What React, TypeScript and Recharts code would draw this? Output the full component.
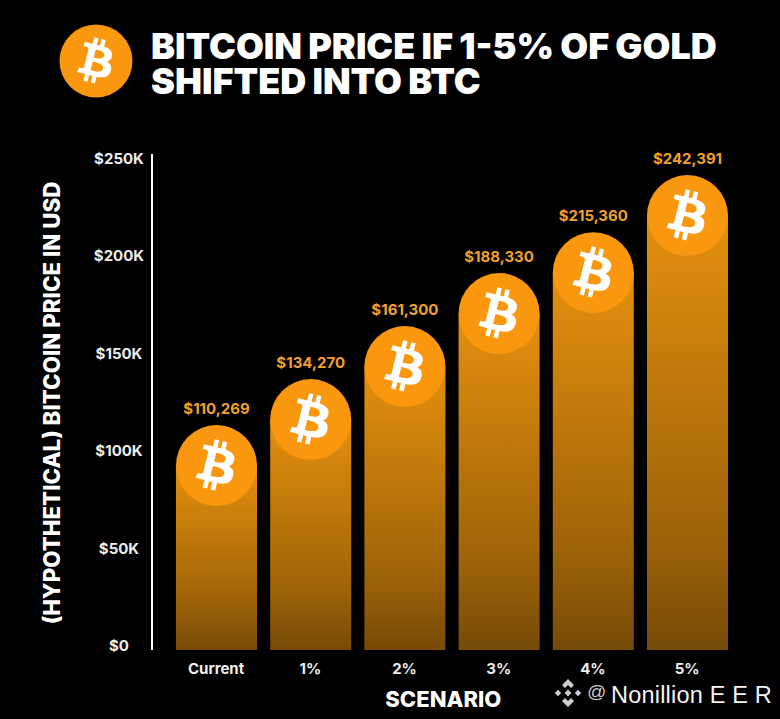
import { BarChart, Bar, XAxis, YAxis, LabelList } from 'recharts';

const scenarios = ['Current', '1%', '2%', '3%', '4%', '5%'];
const priceLabels = ['$110,269', '$134,270', '$161,300', '$188,330', '$215,360', '$242,391'];
// height of each coin-topped bar as it sits against the axis in the picture
const drawnHeights = [115400, 139000, 166200, 193400, 214400, 243700];
const yTicks = [0, 50000, 100000, 150000, 200000, 250000];

const chartData = scenarios.map((scenario, i) => ({
  scenario,
  height: drawnHeights[i],
  priceLabel: priceLabels[i],
}));

const FONT = 'Inter, sans-serif';
const ORANGE = '#f9970f';
const B_PATH =
  'M17.288 10.291c.24-1.59-.974-2.45-2.64-3.03l.54-2.153-1.315-.33-.525 2.107c-.345-.087-.705-.167-1.064-.25l.526-2.127-1.32-.33-.54 2.165c-.285-.067-.565-.132-.84-.2l-1.815-.45-.35 1.407s.975.225.955.236c.535.136.63.486.615.766l-1.477 5.92c-.075.166-.24.406-.614.314.015.02-.96-.24-.96-.24l-.66 1.51 1.71.426.93.242-.54 2.19 1.32.327.54-2.17c.36.1.705.19 1.05.273l-.51 2.154 1.32.33.545-2.19c2.24.427 3.93.257 4.64-1.774.57-1.637-.03-2.58-1.217-3.196.854-.193 1.5-.76 1.68-1.93h.01zm-3.01 4.22c-.404 1.64-3.157.75-4.05.53l.72-2.9c.896.23 3.757.67 3.33 2.37zm.41-4.24c-.37 1.49-2.662.735-3.405.55l.654-2.64c.744.18 3.137.524 2.75 2.084v.006z';

function Coin({ cx, cy, r }: { cx: number; cy: number; r: number }) {
  const s = (r * 2) / 24;
  return (
    <g>
      <circle cx={cx} cy={cy} r={r} fill={ORANGE} />
      <path d={B_PATH} fill="#fff" transform={`translate(${cx - r} ${cy - r}) scale(${s})`} />
    </g>
  );
}

function CoinBar(props: any) {
  const { x, y, width, height } = props;
  const r = width / 2;
  return (
    <g>
      <rect x={x} y={y + r} width={width} height={height - r} fill="url(#barFade)" />
      <Coin cx={x + r} cy={y + r} r={r} />
    </g>
  );
}

function YTick({ y, payload }: any) {
  const v = payload.value;
  return (
    <text x={119} y={y - 4} dy="0.35em" textAnchor="middle" fill="#eeeeee" fontFamily={FONT} fontSize={15} fontWeight={700}>
      {v === 0 ? '$0' : `$${v / 1000}K`}
    </text>
  );
}

export default function App() {
  return (
    <div style={{ position: 'absolute', left: 0, top: 0, width: 780, height: 719, background: '#000', overflow: 'hidden' }}>
      <svg width={74} height={74} style={{ position: 'absolute', left: 59, top: 24 }}>
        <Coin cx={37} cy={37} r={36.5} />
      </svg>
      <div
        style={{
          position: 'absolute',
          left: 151,
          top: 29,
          color: '#fff',
          fontFamily: FONT,
          fontWeight: 900,
          fontSize: 36,
          wordSpacing: -1,
          lineHeight: '35px',
          whiteSpace: 'nowrap',
        }}
      >
        BITCOIN PRICE IF 1-5% OF GOLD
        <br />
        SHIFTED INTO BTC
      </div>

      <BarChart width={780} height={719} data={chartData} margin={{ top: 154, right: 45.4, bottom: 0, left: 0 }}>
        <defs>
          <linearGradient id="barFade" x1="0" y1="0" x2="0" y2="1">
            <stop offset="0%" stopColor="#e4900e" />
            <stop offset="75%" stopColor="#9c6208" />
            <stop offset="100%" stopColor="#764a08" />
          </linearGradient>
        </defs>
        <XAxis
          dataKey="scenario"
          height={69}
          padding={{ left: 17, right: 0.4 }}
          axisLine={false}
          tickLine={false}
          tickSize={0}
          tickMargin={13}
          interval={0}
          tick={{ fill: '#eeeeee', fontFamily: FONT, fontSize: 15, fontWeight: 700 }}
          label={{
            value: 'SCENARIO',
            position: 'insideBottom',
            offset: 12,
            dx: 0,
            style: { fill: '#fff', fontFamily: FONT, fontSize: 22, fontWeight: 800 },
          }}
        />
        <YAxis
          width={152}
          domain={[0, 254500]}
          ticks={yTicks}
          allowDataOverflow
          axisLine={{ stroke: '#fff', strokeWidth: 2 }}
          tickLine={false}
          tick={YTick}
          label={{
            value: '(HYPOTHETICAL) BITCOIN PRICE IN USD',
            angle: -90,
            position: 'insideLeft',
            offset: 52,
            dy: 1,
            style: { fill: '#fff', fontFamily: FONT, fontSize: 22.3, fontWeight: 800, textAnchor: 'middle' },
          }}
        />
        <Bar dataKey="height" barSize={81} shape={CoinBar} isAnimationActive={false}>
          <LabelList
            dataKey="priceLabel"
            position="top"
            offset={11}
            style={{ fill: '#f0a02e', fontFamily: FONT, fontSize: 15, fontWeight: 700 }}
          />
        </Bar>
      </BarChart>

      <svg width={30} height={30} style={{ position: 'absolute', left: 553, top: 678 }} fill="#cfcfcf">
        <path d="M15 1 L21 7 L18 10 L15 7 L12 10 L9 7 Z" />
        <path d="M15 29 L21 23 L18 20 L15 23 L12 20 L9 23 Z" />
        <path d="M15 11.5 L18.5 15 L15 18.5 L11.5 15 Z" />
        <path d="M5 11.8 L8.2 15 L5 18.2 L1.8 15 Z" />
        <path d="M25 11.8 L28.2 15 L25 18.2 L21.8 15 Z" />
      </svg>
      <div
        style={{
          position: 'absolute',
          left: 587,
          top: 678,
          color: '#c8c8c8',
          fontFamily: '"Liberation Sans", sans-serif',
          fontSize: 19,
          lineHeight: '28px',
        }}
      >
        @
      </div>
      <div
        style={{
          position: 'absolute',
          left: 611,
          top: 681,
          color: '#f4f4f4',
          fontFamily: '"Liberation Sans", sans-serif',
          fontSize: 23.5,
          letterSpacing: 0.2,
          lineHeight: '28px',
          whiteSpace: 'nowrap',
        }}
      >
        Nonillion E E R
      </div>
    </div>
  );
}
